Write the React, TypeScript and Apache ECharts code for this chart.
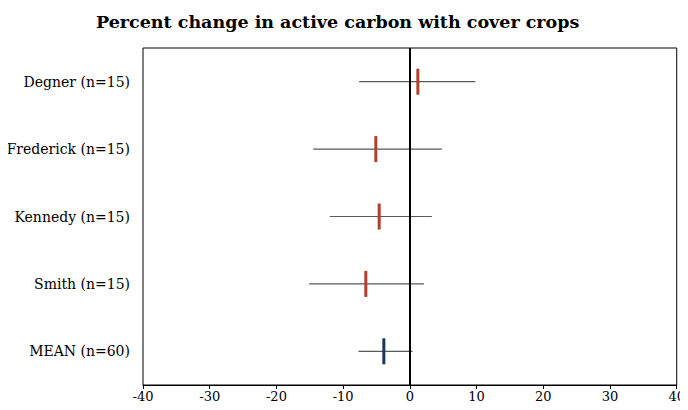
import React, { useEffect, useRef } from "react";
import * as echarts from "echarts";

const categories = ["Degner (n=15)", "Frederick (n=15)", "Kennedy (n=15)", "Smith (n=15)", "MEAN (n=60)"];
const means = [1.2, -5.1, -4.6, -6.6, -3.9];
const lows = [-7.6, -14.5, -12.0, -15.1, -7.7];
const highs = [9.8, 4.8, 3.3, 2.1, 0.4];
const markerColors = ["#B0402A", "#B0402A", "#B0402A", "#B0402A", "#17375E"];
const xTicks = { min: -40, max: 40, interval: 10 };

const FONT = "'DejaVu Serif', 'Liberation Serif', serif";

export default function App() {
  const ref = useRef<HTMLDivElement>(null);
  useEffect(() => {
    if (!ref.current) return;
    const chart = echarts.init(ref.current, undefined, { renderer: "svg" });
    const errData = categories.map((c, i) => [i, lows[i], highs[i]]);
    const meanData = categories.map((c, i) => ({
      value: [means[i], c],
      itemStyle: { color: markerColors[i], opacity: 1 },
    }));
    chart.setOption({
      animation: false,
      title: {
        text: "Percent change in active carbon with cover crops",
        left: 91,
        top: 8,
        textStyle: { fontFamily: FONT, fontWeight: "bold", fontSize: 17.5, color: "#000" },
      },
      grid: {
        left: 143,
        right: 11,
        top: 48,
        bottom: 25,
        show: true,
        borderColor: "#000",
        borderWidth: 1,
      },
      xAxis: {
        type: "value",
        min: xTicks.min,
        max: xTicks.max,
        interval: xTicks.interval,
        axisLine: { show: true, lineStyle: { color: "#000", width: 1 } },
        axisTick: { show: true, length: 4, lineStyle: { color: "#000" } },
        splitLine: { show: false },
        axisLabel: { fontFamily: FONT, fontSize: 13, color: "#000", margin: 5 },
      },
      yAxis: {
        type: "category",
        data: categories,
        inverse: true,
        axisLine: { show: false },
        axisTick: { show: false },
        splitLine: { show: false },
        axisLabel: { fontFamily: FONT, fontSize: 14, color: "#000", margin: 13 },
      },
      series: [
        {
          type: "custom",
          data: errData,
          encode: { x: [1, 2], y: 0 },
          renderItem: (params: any, api: any) => {
            const idx = api.value(0);
            const a = api.coord([api.value(1), idx]);
            const b = api.coord([api.value(2), idx]);
            return {
              type: "line",
              shape: { x1: a[0], y1: a[1], x2: b[0], y2: b[1] },
              style: { stroke: "#595959", lineWidth: 1.2 },
            };
          },
          markLine: {
            silent: true,
            symbol: "none",
            label: { show: false },
            lineStyle: { color: "#000", width: 2, type: "solid" },
            data: [{ xAxis: 0 }],
          },
          z: 2,
        },
        {
          type: "scatter",
          data: meanData,
          symbol: "rect",
          symbolSize: [3, 26],
          itemStyle: { opacity: 1 },
          z: 3,
        },
      ],
    });
    return () => chart.dispose();
  }, []);
  return <div ref={ref} style={{ width: 688, height: 410, margin: -8 }} />;
}
